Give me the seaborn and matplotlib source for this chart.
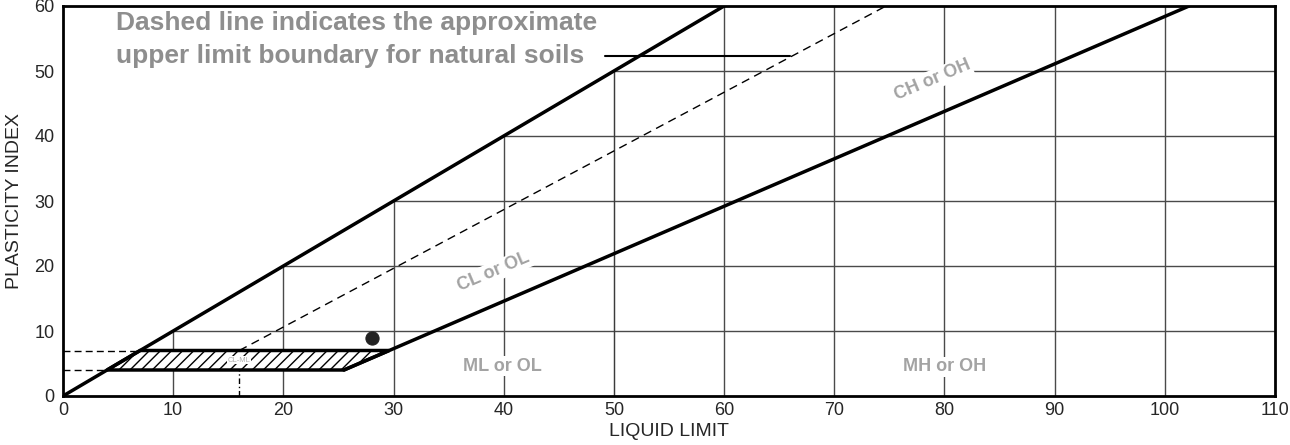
import matplotlib
matplotlib.use("Agg")
import matplotlib.pyplot as plt
import seaborn as sns
import pandas as pd

# ---- data ----
ll_ticks = [0, 10, 20, 30, 40, 50, 60, 70, 80, 90, 100, 110]
pi_ticks = [0, 10, 20, 30, 40, 50, 60]

limit_ll = [0, 60]          # PI = LL boundary
limit_pi = [0, 60]
a_line_ll = [25.5, 102.2]   # A-line
a_line_pi = [4, 60]
u_line_ll = [16, 74.7]      # dashed U-line
u_line_pi = [7, 60]
ll50_ll = [50, 50]          # LL = 50 divider
ll50_pi = [0, 50]
clml_ll = [4, 7, 29.6, 25.5]  # hatched CL-ML zone
clml_pi = [4, 7, 7, 4]
sample_ll = [28]
sample_pi = [9]
pointer_ll = [49.2, 66]
pointer_pi = [52.3, 52.3]

zone_labels = ["CL or OL", "ML or OL", "CH or OH", "MH or OH"]
zone_ll = [39.1, 39.9, 78.9, 80.0]
zone_pi = [19.1, 4.6, 48.6, 4.5]
zone_rot = [23, 0, 23, 0]

note_text = "Dashed line indicates the approximate\nupper limit boundary for natural soils"

# ---- style ----
sns.set_style("white")
plt.rcParams["font.family"] = ["Liberation Sans", "DejaVu Sans"]
plt.rcParams["hatch.linewidth"] = 1.0

fig = plt.figure(figsize=(12.9, 4.45), dpi=100)
ax = fig.add_axes([63 / 1290, 49 / 445, (1275 - 63) / 1290, (396 - 6) / 445])
ax.set_xlim(0, 110)
ax.set_ylim(0, 60)

grid_c = "#4a4a4a"
# partial grid (staircase left of PI = LL)
for x in ll_ticks[1:-1]:
    ax.vlines(x, 0, min(x, 60), color=grid_c, lw=1.0, zorder=1)
for y in pi_ticks[1:-1]:
    ax.hlines(y, y, 110, color=grid_c, lw=1.0, zorder=1)

# dashed guides to the CL-ML zone
ax.hlines([clml_pi[1]], 0, clml_ll[1], color="black", lw=1.0, ls=(0, (5, 3)), zorder=2)
ax.hlines([clml_pi[0]], 0, clml_ll[0], color="black", lw=1.0, ls=(0, (5, 3)), zorder=2)
ax.vlines(u_line_ll[0], 0, clml_pi[0], color="black", lw=1.0, ls=(0, (4, 2, 1, 2)), zorder=2)

# hatched zone
ax.fill(clml_ll, clml_pi, facecolor="white", edgecolor="black", hatch="///",
        lw=2.5, zorder=3)
ax.text(16, 5.5, "CL-ML", fontsize=5.5, color="#b0b0b0", ha="center", va="center",
        zorder=4, bbox=dict(facecolor="white", edgecolor="none", pad=0.3))

# main boundary lines
sns.lineplot(x=limit_ll, y=limit_pi, ax=ax, color="black", lw=2.5, sort=False, zorder=5)
sns.lineplot(x=a_line_ll, y=a_line_pi, ax=ax, color="black", lw=2.5, sort=False, zorder=5)
sns.lineplot(x=ll50_ll, y=ll50_pi, ax=ax, color="black", lw=2.5, sort=False, zorder=5)
sns.lineplot(x=u_line_ll, y=u_line_pi, ax=ax, color="black", lw=1.0, sort=False,
             linestyle=(0, (6, 4)), zorder=5)
sns.lineplot(x=pointer_ll, y=pointer_pi, ax=ax, color="black", lw=1.5, sort=False, zorder=5)

# sample point
sns.scatterplot(x=sample_ll, y=sample_pi, ax=ax, color="#222222", s=90,
                edgecolor="#222222", zorder=6)

# zone labels
for lab, x, y, r in zip(zone_labels, zone_ll, zone_pi, zone_rot):
    ax.text(x, y, lab, fontsize=13, fontweight="bold", color="#a3a3a3",
            ha="center", va="center", rotation=r, rotation_mode="anchor", zorder=4,
            bbox=dict(facecolor="white", edgecolor="none", pad=1.0))

ax.text(4.8, 59.3, note_text, fontsize=19, fontweight="bold", color="#8e8e8e",
        ha="left", va="top", linespacing=1.5, zorder=4)

# axes cosmetics
ax.set_xticks(ll_ticks)
ax.set_yticks(pi_ticks)
ax.tick_params(axis="x", length=0, labelsize=13, pad=4)
ax.tick_params(axis="y", direction="in", length=7, width=1.0, color=grid_c,
               labelsize=13, pad=6)
for s in ax.spines.values():
    s.set_linewidth(2.0)
    s.set_color("black")
    s.set_visible(True)
ax.set_xlabel("LIQUID LIMIT", fontsize=14, labelpad=3)
ax.set_ylabel("PLASTICITY INDEX", fontsize=14, labelpad=8)
ax.grid(False)

fig.savefig("out.png", dpi=100)
